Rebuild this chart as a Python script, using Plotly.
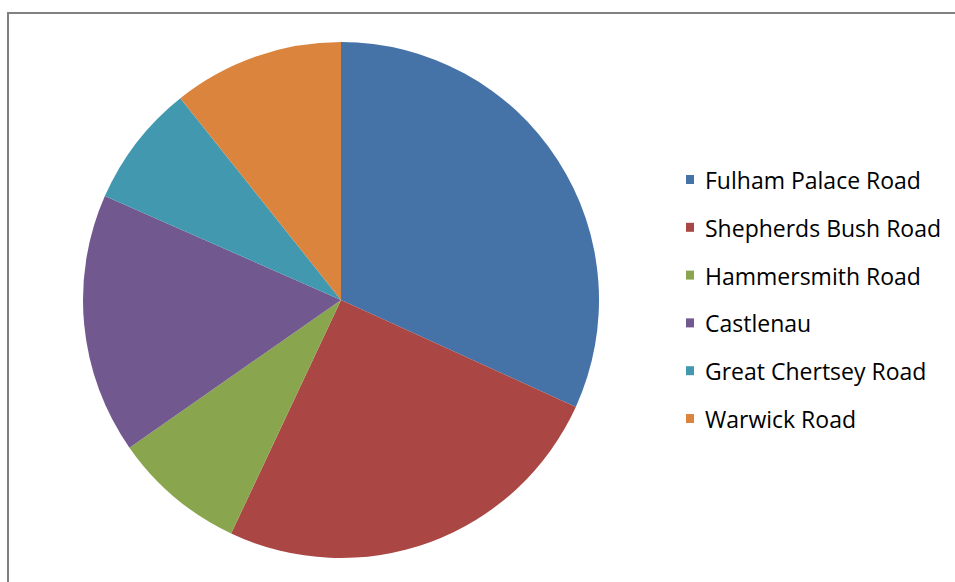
import plotly.graph_objects as go

labels = ["Fulham Palace Road", "Shepherds Bush Road", "Hammersmith Road",
          "Castlenau", "Great Chertsey Road", "Warwick Road"]
values = [31.8, 25.2, 8.3, 16.3, 7.7, 10.7]
colors = ["#4572A7", "#AA4643", "#89A54E", "#71588F", "#4198AF", "#DB843D"]

W, H = 955, 582

fig = go.Figure()
fig.add_trace(go.Pie(
    labels=labels, values=values, sort=False, direction="clockwise", rotation=0,
    marker=dict(colors=colors, line=dict(width=0)),
    textinfo="none", showlegend=False,
    domain=dict(x=[83 / W, 599 / W], y=[1 - 558 / H, 1 - 42 / H]),
))

# manual legend
y0, dy = 180, 47.8
shapes = []
annotations = []
for i, (lab, col) in enumerate(zip(labels, colors)):
    yc = y0 + i * dy
    shapes.append(dict(type="rect", xref="paper", yref="paper",
                       x0=686 / W, x1=694 / W,
                       y0=1 - (yc + 4) / H, y1=1 - (yc - 5) / H,
                       fillcolor=col, line=dict(width=0)))
    annotations.append(dict(text=lab, xref="paper", yref="paper",
                            x=703 / W, y=1 - yc / H, xanchor="left", yanchor="middle",
                            showarrow=False,
                            font=dict(family="Open Sans", size=23, color="#000000")))

shapes.append(dict(type="rect", xref="paper", yref="paper",
                   x0=8 / W, x1=1.05, y0=-0.05, y1=1 - 13 / H,
                   line=dict(color="#808080", width=2), fillcolor="rgba(0,0,0,0)"))

fig.update_layout(width=W, height=H, margin=dict(l=0, r=0, t=0, b=0),
                  paper_bgcolor="white", plot_bgcolor="white",
                  shapes=shapes, annotations=annotations)
fig.write_html("out.html")
